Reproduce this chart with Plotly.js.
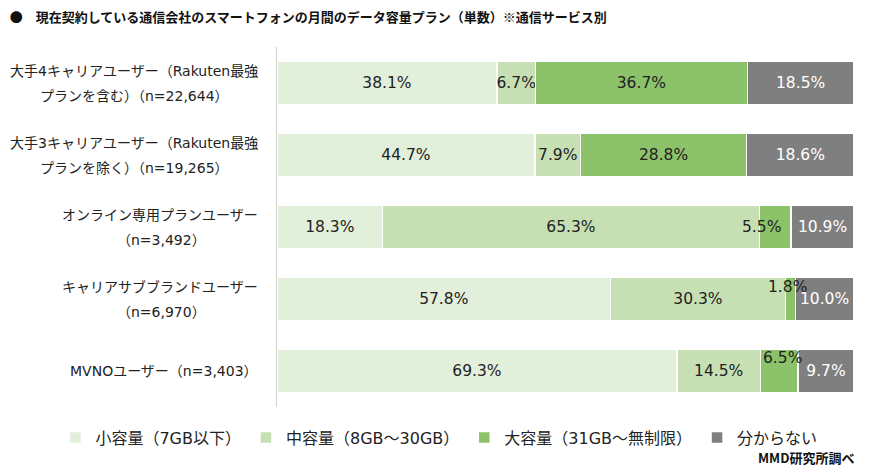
<!DOCTYPE html>
<html>
<head>
<meta charset="utf-8">
<script src="https://cdn.plot.ly/plotly-3.0.1.min.js"></script>
<style>html,body{margin:0;padding:0;background:#fff;}#chart{width:876px;height:473px;}</style>
</head>
<body>
<div id="chart"></div>
<script>
// ---- data ----
const categories = [
  "大手4キャリアユーザー（Rakuten最強プランを含む）（n=22,644）",
  "大手3キャリアユーザー（Rakuten最強プランを除く）（n=19,265）",
  "オンライン専用プランユーザー（n=3,492）",
  "キャリアサブブランドユーザー（n=6,970）",
  "MVNOユーザー（n=3,403）"
];
const labelLine1 = [
  "大手4キャリアユーザー（Rakuten最強",
  "大手3キャリアユーザー（Rakuten最強",
  "オンライン専用プランユーザー",
  "キャリアサブブランドユーザー",
  "MVNOユーザー（n=3,403）"
];
const labelLine2 = [
  "プランを含む）（n=22,644）",
  "プランを除く）（n=19,265）",
  "（n=3,492）",
  "（n=6,970）",
  ""
];
const seriesNames = ["小容量（7GB以下）", "中容量（8GB～30GB）", "大容量（31GB～無制限）", "分からない"];
const small  = [38.1, 44.7, 18.3, 57.8, 69.3];
const medium = [6.7, 7.9, 65.3, 30.3, 14.5];
const large  = [36.7, 28.8, 5.5, 1.8, 6.5];
const unknown = [18.5, 18.6, 10.9, 10.0, 9.7];
const title = "●　現在契約している通信会社のスマートフォンの月間のデータ容量プラン（単数）※通信サービス別";
const source = "MMD研究所調べ";

// ---- styles ----
const colors = ["#E2EFDA", "#C6E0B4", "#8CC26A", "#7F7F7F"];
const textColors = ["#222222", "#222222", "#222222", "#FFFFFF"];
const FONT = "'DejaVu Sans', 'Noto Sans CJK JP', sans-serif";
const CJK = "'Noto Sans CJK JP', 'Noto Sans', sans-serif";
const series = [small, medium, large, unknown];
const W = 876, H = 473, ML = 277, MR = 22, MT = 47, MB = 66;
const plotW = W - ML - MR;
const LAB_SIZE = 14;

// labels placed outside their segment in the reference (大容量 series)
const offLabels = {2: {xs: -14, ys: 0}, 3: {xs: -3, ys: 12}, 4: {xs: 3, ys: 13}};

const traces = series.map((vals, si) => {
  const pos = vals.map((v, i) => (si === 2 && offLabels[i]) ? "none" : "inside");
  return {
    type: "bar",
    orientation: "h",
    name: seriesNames[si],
    y: categories,
    x: vals,
    text: vals.map(v => v.toFixed(1) + "%"),
    textposition: pos,
    insidetextanchor: "middle",
    textangle: 0,
    constraintext: "none",
    textfont: {family: FONT, size: 15.5, color: textColors[si]},
    marker: {color: colors[si], line: {color: "#FFFFFF", width: 1.5}},
    hoverinfo: "name+x"
  };
});

// measure text width for centring the second line of category labels under the first
const ctx = document.createElement("canvas").getContext("2d");
ctx.font = LAB_SIZE + "px " + FONT;
const labRightPx = 260;               // right edge of the category label block
const labRight = (labRightPx - ML) / plotW;

const annotations = [];
const labFont = {family: FONT, size: LAB_SIZE, color: "#222"};
categories.forEach((c, i) => {
  if (labelLine2[i]) {
    const w1 = ctx.measureText(labelLine1[i]).width;
    annotations.push({xref: "paper", yref: "y", x: labRight, y: c, xanchor: "right", yanchor: "middle",
      text: labelLine1[i], showarrow: false, yshift: 12, font: labFont});
    annotations.push({xref: "paper", yref: "y", x: (labRightPx - 1 - w1 / 2 - ML) / plotW, y: c,
      xanchor: "center", yanchor: "middle", text: labelLine2[i], showarrow: false, yshift: -13, font: labFont});
  } else {
    annotations.push({xref: "paper", yref: "y", x: labRight, y: c, xanchor: "right", yanchor: "middle",
      text: labelLine1[i], showarrow: false, font: labFont});
  }
});
Object.keys(offLabels).forEach(k => {
  const i = +k;
  const center = small[i] + medium[i] + large[i] / 2;
  annotations.push({xref: "x", yref: "y", x: center, y: categories[i], showarrow: false,
    text: large[i].toFixed(1) + "%", xshift: offLabels[i].xs, yshift: offLabels[i].ys,
    font: {family: FONT, size: 15.5, color: "#222"}});
});
annotations.push({xref: "paper", yref: "paper", x: 1.0035, y: -0.139, xanchor: "right", yanchor: "middle",
  text: "<b>" + source + "</b>", showarrow: false, font: {family: CJK, size: 13, color: "#111"}});

const layout = {
  width: W, height: H,
  margin: {l: ML, r: MR, t: MT, b: MB},
  paper_bgcolor: "#fff", plot_bgcolor: "#fff",
  font: {family: FONT, color: "#222"},
  barmode: "stack",
  bargap: 0.39,
  showlegend: true,
  title: {text: "<b>" + title + "</b>", xref: "container", yref: "container", x: 0.011, xanchor: "left",
    y: 0.964, yanchor: "middle", font: {family: CJK, size: 13, color: "#111"}},
  xaxis: {range: [0, 100], visible: false, fixedrange: true},
  yaxis: {autorange: "reversed", showticklabels: false, ticks: "", showgrid: false,
    showline: true, linecolor: "#D0D0D0", linewidth: 1, zeroline: false},
  legend: {orientation: "h", x: -0.384, xanchor: "left", y: -0.085, yanchor: "middle",
    font: {family: FONT, size: 16, color: "#222"}, itemwidth: 30, traceorder: "normal"},
  annotations: annotations
};

Plotly.newPlot("chart", traces, layout, {displayModeBar: false, staticPlot: true});
</script>
</body>
</html>
